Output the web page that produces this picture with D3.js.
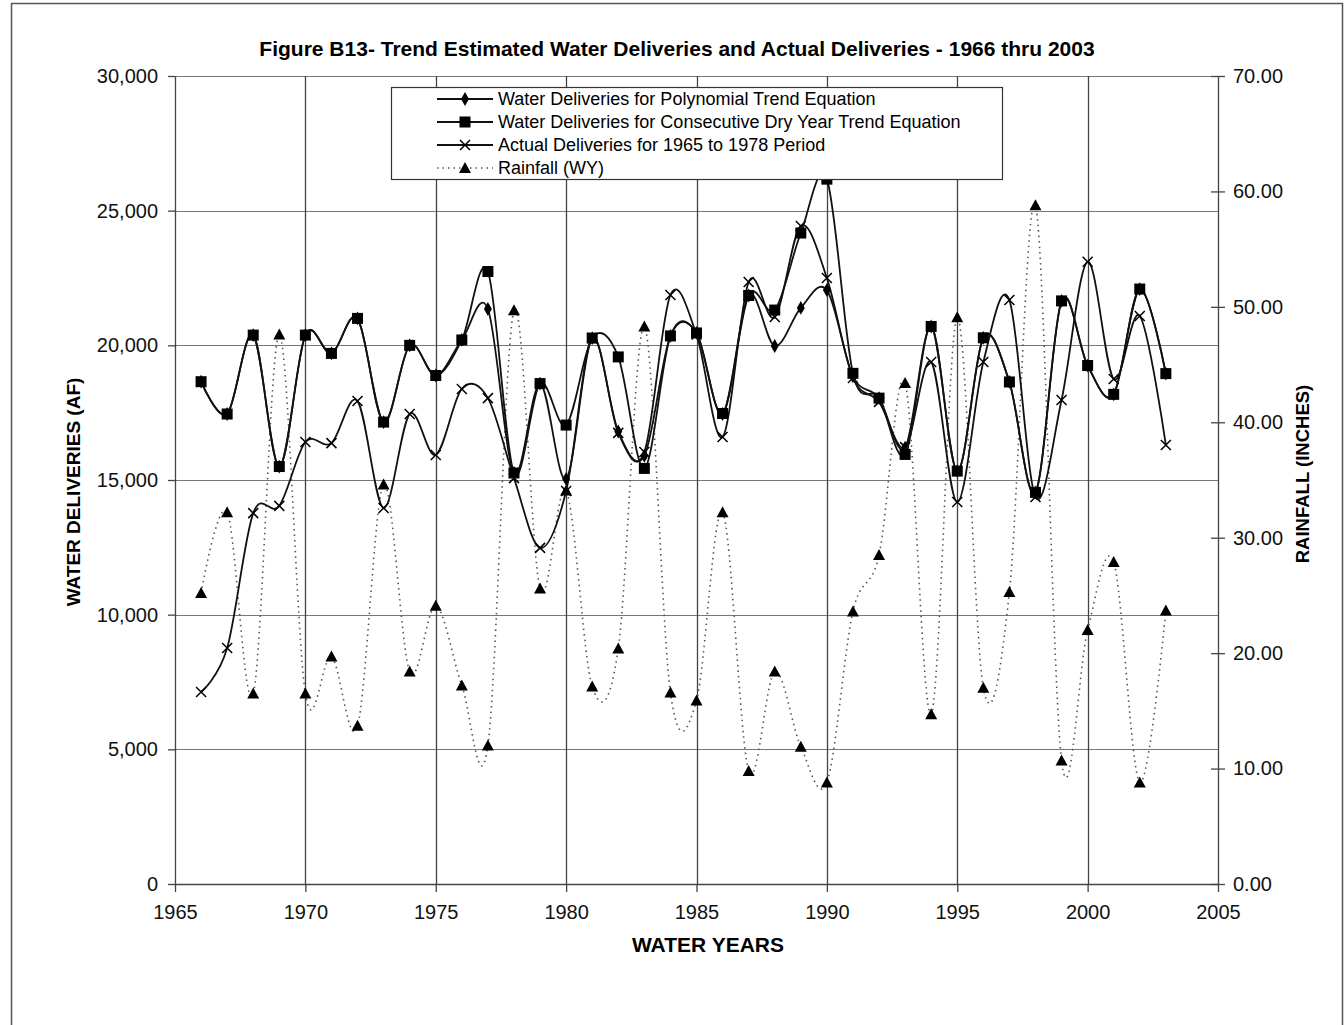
<!DOCTYPE html>
<html>
<head>
<meta charset="utf-8">
<script src="https://cdn.jsdelivr.net/npm/d3@7"></script>
<style>
  body { margin: 0; background: #fff; }
  svg { font-family: Arial, "Liberation Sans", sans-serif; }
</style>
</head>
<body>
<svg width="1344" height="1025"></svg>
<script>

var years = d3.range(1966, 2004);

// water deliveries (AF)
var polynomial = [18650, 17450, 20380, 15500, 20380, 19700, 21000, 17150, 20000, 18880,
                  20200, 21350, 15260, 18580, 15040, 20270, 16800, 15900, 20350, 20460,
                  17450, 21850, 19975, 21390, 22050, 18850, 18040, 16200, 20700, 15330,
                  20280, 18640, 14540, 21650, 19250, 18180, 22090, 18950];
var consecutive = [18650, 17450, 20380, 15500, 20380, 19700, 21000, 17150, 20000, 18880,
                   20200, 22740, 15260, 18580, 17040, 20270, 19570, 15430, 20350, 20460,
                   17470, 21850, 21310, 24170, 26170, 18960, 18040, 15950, 20700, 15330,
                   20280, 18640, 14540, 21650, 19250, 18180, 22090, 18950];
var actual = [7130, 8760, 13770, 14040, 16410, 16370, 17930, 13960, 17450, 15930,
              18380, 18040, 15070, 12480, 14590, 20270, 16750, 16040, 21870, 20400,
              16600, 22350, 21050, 24430, 22500, 18790, 17900, 16220, 19380, 14180,
              19380, 21680, 14370, 17970, 23100, 18750, 21090, 16300];
// rainfall (inches)
var rainfall = [25.2, 32.2, 16.5, 47.6, 16.5, 19.7, 13.7, 34.6, 18.4, 24.1,
                17.2, 12.0, 49.7, 25.6, 34.1, 17.1, 20.4, 48.3, 16.6, 15.9,
                32.2, 9.8, 18.4, 11.9, 8.8, 23.6, 28.5, 43.4, 14.7, 49.1,
                17.0, 25.3, 58.8, 10.7, 22.0, 27.9, 8.8, 23.7];

var xTicks = d3.range(1965, 2006, 5);
var leftTicks = d3.range(0, 30001, 5000);
var rightTicks = d3.range(0, 71, 10);

var legendLabels = ["Water Deliveries for Polynomial Trend Equation",
                    "Water Deliveries for Consecutive Dry Year Trend Equation",
                    "Actual Deliveries for 1965 to 1978 Period",
                    "Rainfall (WY)"];

var svg = d3.select("svg");
var x = d3.scaleLinear().domain([1965, 2005]).range([175, 1218]);
var yL = d3.scaleLinear().domain([0, 30000]).range([884, 76]);
var yR = d3.scaleLinear().domain([0, 70]).range([884, 76]);

// outer frame
svg.append("path")
  .attr("d", "M11.5,1025 V3.5 H1342.5 V1025")
  .attr("fill", "none").attr("stroke", "#555").attr("stroke-width", 1.5);

// grid
svg.append("g").selectAll("line").data(leftTicks.slice(1)).enter().append("line")
  .attr("x1", 175).attr("x2", 1218)
  .attr("y1", function(d){ return Math.round(yL(d)) + 0.5; })
  .attr("y2", function(d){ return Math.round(yL(d)) + 0.5; })
  .attr("stroke", "#777").attr("stroke-width", 1);
svg.append("g").selectAll("line").data(xTicks.slice(1, -1)).enter().append("line")
  .attr("y1", 76).attr("y2", 884)
  .attr("x1", function(d){ return Math.round(x(d)) + 0.5; })
  .attr("x2", function(d){ return Math.round(x(d)) + 0.5; })
  .attr("stroke", "#444").attr("stroke-width", 1.3);

// axes
var fs = "20px";
var gx = svg.append("g").attr("transform", "translate(0,884)")
  .call(d3.axisBottom(x).tickValues(xTicks).tickFormat(d3.format("d")).tickSize(8).tickSizeOuter(0));
var gl = svg.append("g").attr("transform", "translate(175,0)")
  .call(d3.axisLeft(yL).tickValues(leftTicks).tickFormat(d3.format(",")).tickSize(7).tickPadding(10).tickSizeOuter(0));
var gr = svg.append("g").attr("transform", "translate(1218,0)")
  .call(d3.axisRight(yR).tickValues(rightTicks).tickFormat(d3.format(".2f")).tickSize(7).tickPadding(8).tickSizeOuter(0));
gr.selectAll(".tick line").attr("x1", -7);
[gx, gl, gr].forEach(function(g){
  g.selectAll("text").style("font-size", fs).attr("fill", "#111");
  g.selectAll("line, path").attr("stroke", "#444").attr("stroke-width", 1.3);
});
gx.selectAll("text").attr("dy", "1.2em");

// titles
svg.append("text").attr("x", 677).attr("y", 56).attr("text-anchor", "middle")
  .style("font-size", "21px").style("font-weight", "bold")
  .text("Figure B13- Trend Estimated Water Deliveries and Actual Deliveries - 1966 thru 2003");
svg.append("text").attr("x", 708).attr("y", 952).attr("text-anchor", "middle")
  .style("font-size", "21px").style("font-weight", "bold").text("WATER YEARS");
svg.append("text").attr("transform", "translate(80,492) rotate(-90)").attr("text-anchor", "middle")
  .style("font-size", "19px").style("font-weight", "bold").text("WATER DELIVERIES (AF)");
svg.append("text").attr("transform", "translate(1309,474) rotate(-90)").attr("text-anchor", "middle")
  .style("font-size", "18.5px").style("font-weight", "bold").text("RAINFALL (INCHES)");

// markers
function marker(g, type, cx, cy){
  if (type === "diamond") {
    g.append("path").attr("d", d3.symbol(d3.symbolDiamond, 55)())
      .attr("transform", "translate(" + cx + "," + cy + ")").attr("fill", "#000");
  } else if (type === "square") {
    g.append("rect").attr("x", cx - 5.5).attr("y", cy - 5.5).attr("width", 11).attr("height", 11).attr("fill", "#000");
  } else if (type === "x") {
    g.append("path").attr("d", "M" + (cx-5) + "," + (cy-5) + "L" + (cx+5) + "," + (cy+5) +
                       "M" + (cx+5) + "," + (cy-5) + "L" + (cx-5) + "," + (cy+5))
      .attr("stroke", "#000").attr("stroke-width", 1.5);
  } else {
    g.append("path").attr("d", "M" + cx + "," + (cy-6) + "L" + (cx+6) + "," + (cy+5) + "L" + (cx-6) + "," + (cy+5) + "Z")
      .attr("fill", "#000");
  }
}

var curve = d3.curveCardinal.tension(0);
var series = [
  { vals: rainfall, y: yR, type: "tri", dash: "1.5,4", color: "#555", w: 1.6 },
  { vals: actual, y: yL, type: "x", dash: null, color: "#111", w: 1.8 },
  { vals: polynomial, y: yL, type: "diamond", dash: null, color: "#111", w: 1.8 },
  { vals: consecutive, y: yL, type: "square", dash: null, color: "#111", w: 1.8 }
];
series.forEach(function(s){
  var line = d3.line().curve(curve)
    .x(function(d, i){ return x(years[i]); })
    .y(function(d){ return s.y(d); });
  svg.append("path").datum(s.vals).attr("d", line)
    .attr("fill", "none").attr("stroke", s.color).attr("stroke-width", s.w)
    .attr("stroke-dasharray", s.dash);
  var g = svg.append("g");
  s.vals.forEach(function(v, i){ marker(g, s.type, x(years[i]), s.y(v)); });
});

// legend
var lg = svg.append("g");
lg.append("rect").attr("x", 391.5).attr("y", 87.5).attr("width", 611).attr("height", 92)
  .attr("fill", "#fff").attr("stroke", "#333").attr("stroke-width", 1.2);
var ltypes = ["diamond", "square", "x", "tri"];
legendLabels.forEach(function(t, i){
  var cy = 99 + i * 23;
  lg.append("line").attr("x1", 437).attr("x2", 493).attr("y1", cy).attr("y2", cy)
    .attr("stroke", i === 3 ? "#555" : "#111").attr("stroke-width", i === 3 ? 1.6 : 1.8)
    .attr("stroke-dasharray", i === 3 ? "1.5,4" : null);
  marker(lg, ltypes[i], 465, cy);
  lg.append("text").attr("x", 498).attr("y", cy + 6).style("font-size", "18px").text(t);
});

</script>
</body>
</html>
